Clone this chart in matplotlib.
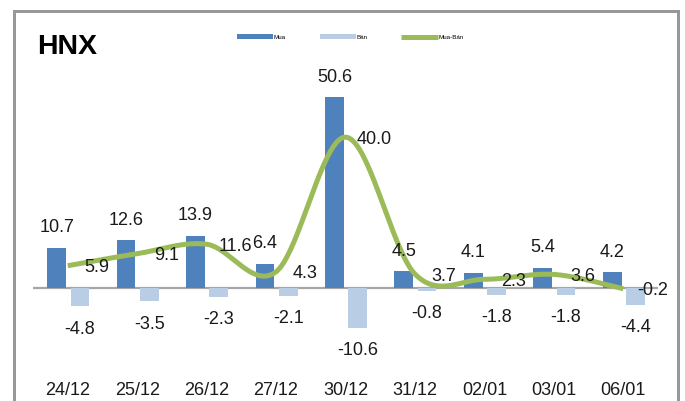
import numpy as np
import matplotlib.pyplot as plt
from matplotlib.lines import Line2D

# data
dates = ["24/12", "25/12", "26/12", "27/12", "30/12", "31/12", "02/01", "03/01", "06/01"]
mua = [10.7, 12.6, 13.9, 6.4, 50.6, 4.5, 4.1, 5.4, 4.2]
ban = [-4.8, -3.5, -2.3, -2.1, -10.6, -0.8, -1.8, -1.8, -4.4]
net = [5.9, 9.1, 11.6, 4.3, 40.0, 3.7, 2.3, 3.6, -0.2]

C_MUA = "#4F81BD"
C_BAN = "#B9CDE5"
C_NET = "#9BBB59"
FONT = ["Liberation Sans", "DejaVu Sans"]
PX = 72 / 100  # points per pixel at dpi 100

plt.rcParams["font.family"] = FONT

fig = plt.figure(figsize=(6.85, 4.01), dpi=100)
ax = fig.add_axes([33 / 685, 0.075, 625 / 685, 0.771])

x = np.arange(len(dates))
w = 0.27
b1 = ax.bar(x - 0.16, mua, w, color=C_MUA, label="Mua", zorder=2)
b2 = ax.bar(x + 0.175, ban, w, color=C_BAN, label="Bán", zorder=2)
ax.axhline(0, color="#A6A6A6", lw=1.6, zorder=1)


# smoothed line like excel (catmull-rom style bezier)
def smooth(xs, ys, n=40):
    pts = np.column_stack([xs, ys]).astype(float)
    ext = np.vstack([pts[0], pts, pts[-1]])
    out = []
    for i in range(len(pts) - 1):
        p0, p1, p2, p3 = ext[i], ext[i + 1], ext[i + 2], ext[i + 3]
        c1 = p1 + (p2 - p0) / 6
        c2 = p2 - (p3 - p1) / 6
        t = np.linspace(0, 1, n)[:, None]
        seg = ((1 - t) ** 3) * p1 + 3 * ((1 - t) ** 2) * t * c1 + 3 * (1 - t) * t ** 2 * c2 + t ** 3 * p2
        out.append(seg if i == 0 else seg[1:])
    out = np.vstack(out)
    return out[:, 0], out[:, 1]


sx, sy = smooth(x, net)
ln, = ax.plot(sx, sy, color=C_NET, lw=5 * PX, solid_capstyle="butt", zorder=3, label="Mua-Bán")

# data labels
lab = dict(fontsize=13, color="#1a1a1a", ha="center", va="center", textcoords="offset points", zorder=5)
for i in range(len(dates)):
    ax.annotate(f"{mua[i]:.1f}", (x[i] - 0.16, mua[i]), xytext=(0, 20 * PX), **lab)
    ax.annotate(f"{ban[i]:.1f}", (x[i] + 0.175, ban[i]), xytext=(0, -23 * PX), **lab)
    ax.annotate(f"{net[i]:.1f}", (x[i], net[i]), xytext=(29 * PX, -2 * PX), **lab)

ax.set_xlim(-0.5, len(dates) - 0.5)
ax.set_ylim(-22, 60)
ax.set_xticks(x)
ax.set_xticklabels(dates, fontsize=13, color="#1a1a1a")
ax.tick_params(axis="x", length=0, pad=8)
ax.set_yticks([])
for s in ax.spines.values():
    s.set_visible(False)

# legend
ax.legend(handles=[b1, b2, ln], loc="center left", bbox_to_anchor=(237 / 685, 1 - 37 / 401),
          bbox_transform=fig.transFigure, ncol=3, frameon=False, fontsize=4.5, handlelength=5.8,
          handleheight=0.8, handletextpad=0.1, columnspacing=5.4, borderpad=0, borderaxespad=0)

# title
fig.text(37 / 685, 1 - 47.5 / 401, "HNX", fontsize=20.5, fontweight="bold", ha="left", va="center")

# grey frame
for xs_, ys_ in [([14, 14], [401, 11]), ([14, 678], [11, 11]), ([678, 678], [11, 401])]:
    fig.add_artist(Line2D([v / 685 for v in xs_], [1 - v / 401 for v in ys_], color="#989898", lw=3 * PX))

fig.savefig("out.png", dpi=100)
